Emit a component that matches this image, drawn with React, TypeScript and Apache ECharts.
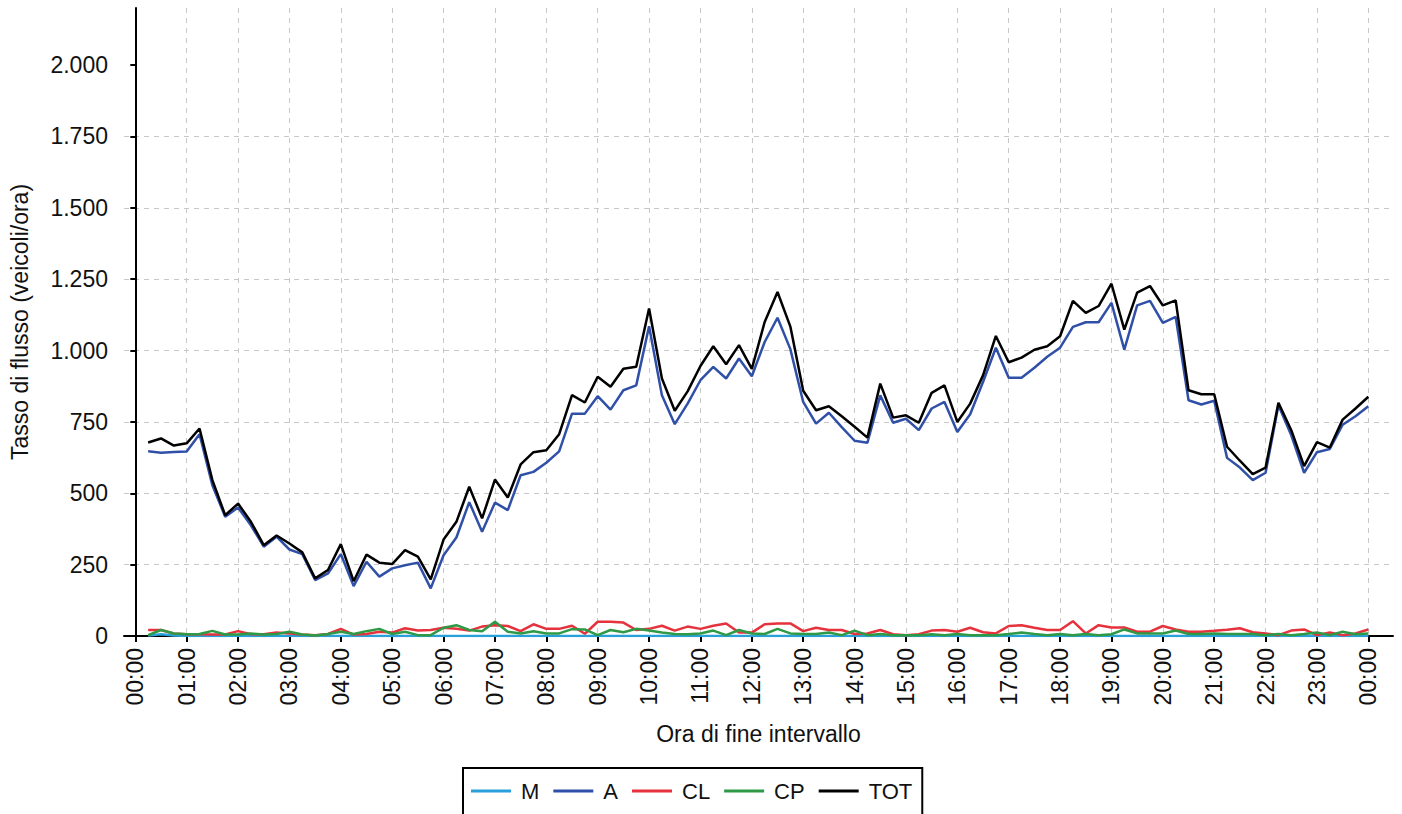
import React, { useEffect, useRef } from "react";
import * as echarts from "echarts";

// End-of-interval times (15-minute intervals)
const times: string[] = [
  "00:15","00:30","00:45","01:00","01:15","01:30","01:45","02:00",
  "02:15","02:30","02:45","03:00","03:15","03:30","03:45","04:00",
  "04:15","04:30","04:45","05:00","05:15","05:30","05:45","06:00",
  "06:15","06:30","06:45","07:00","07:15","07:30","07:45","08:00",
  "08:15","08:30","08:45","09:00","09:15","09:30","09:45","10:00",
  "10:15","10:30","10:45","11:00","11:15","11:30","11:45","12:00",
  "12:15","12:30","12:45","13:00","13:15","13:30","13:45","14:00",
  "14:15","14:30","14:45","15:00","15:15","15:30","15:45","16:00",
  "16:15","16:30","16:45","17:00","17:15","17:30","17:45","18:00",
  "18:15","18:30","18:45","19:00","19:15","19:30","19:45","20:00",
  "20:15","20:30","20:45","21:00","21:15","21:30","21:45","22:00",
  "22:15","22:30","22:45","23:00","23:15","23:30","23:45","24:00",
];

const M: number[] = [
  2,6,2,0,0,0,0,0, 0,0,0,0,0,0,0,0,
  0,0,0,0,0,0,0,0, 0,0,0,0,0,0,0,0,
  0,0,0,0,0,0,0,0, 0,0,0,0,0,0,0,0,
  0,0,0,0,0,0,0,0, 0,0,0,0,0,0,0,0,
  0,0,0,0,0,0,0,0, 0,0,0,0,0,0,0,0,
  0,0,0,0,0,0,0,0, 0,0,0,0,0,0,0,0,
];

const A: number[] = [
  647,642,645,646,707,528,418,450,388,313,348,303,287,196,219,287,
  175,260,208,237,248,257,167,283,345,469,365,467,441,563,575,607,
  647,779,779,840,793,861,878,1085,843,742,814,896,943,902,972,910,
  1030,1115,1005,820,744,782,732,684,677,843,747,761,721,797,820,715,
  777,890,1010,905,905,940,978,1010,1083,1099,1099,1167,1003,1158,1174,1097,
  1118,826,811,824,624,590,546,572,808,703,572,644,655,740,770,805,
];

const CL: number[] = [
  21,21,9,6,6,5,5,17,6,6,12,9,5,3,7,25,
  5,7,15,12,27,19,21,29,25,19,33,38,35,17,41,25,
  25,36,8,50,50,47,21,25,36,19,33,25,36,44,12,12,
  41,44,44,17,29,21,21,7,9,21,6,3,6,19,21,15,
  29,13,9,35,38,29,21,21,52,9,38,30,30,15,15,35,
  23,15,15,18,22,27,13,9,3,19,23,3,12,3,9,23,
];

const CP: number[] = [
  3,21,9,6,7,18,5,5,9,5,7,15,5,2,7,15,
  7,17,25,7,15,3,3,29,38,21,17,50,15,9,17,9,
  9,24,23,3,21,13,25,19,12,7,6,9,19,3,21,9,
  7,25,9,7,7,12,3,19,3,7,3,3,3,6,3,7,
  3,3,3,7,12,7,3,7,3,7,3,6,23,9,9,9,
  19,7,7,9,7,7,7,3,7,3,7,12,3,15,6,9,
];

const TOT: number[] = [
  678,692,667,675,727,546,423,464,400,318,352,324,293,202,231,322,
  192,285,257,252,301,278,198,338,400,523,412,548,485,601,644,651,
  707,844,818,908,873,936,943,1147,902,789,857,946,1015,952,1019,936,
  1100,1205,1084,859,791,805,770,733,695,884,765,773,747,852,878,750,
  814,913,1051,959,975,1003,1015,1050,1174,1132,1156,1234,1073,1203,1226,1158,
  1176,861,847,847,663,614,567,590,817,721,595,679,660,758,797,838,
];

const hourLabels: string[] = [
  "00:00","01:00","02:00","03:00","04:00","05:00","06:00","07:00","08:00",
  "09:00","10:00","11:00","12:00","13:00","14:00","15:00","16:00","17:00",
  "18:00","19:00","20:00","21:00","22:00","23:00","00:00",
];

const yTicks: number[] = [0, 250, 500, 750, 1000, 1250, 1500, 1750, 2000];

const seriesNames = ["M", "A", "CL", "CP", "TOT"];
const seriesColors = ["#29a0da", "#3050a8", "#e6323c", "#2e9a45", "#000000"];

const FONT = "'Liberation Sans', Arial, Helvetica, sans-serif";

function toHours(t: string): number {
  const [h, m] = t.split(":").map(Number);
  return h + m / 60;
}

function fmtThousands(v: number): string {
  return String(Math.round(v)).replace(/\B(?=(\d{3})+(?!\d))/g, ".");
}

export default function App() {
  const ref = useRef<HTMLDivElement>(null);

  useEffect(() => {
    document.body.style.margin = "0";
    if (!ref.current) return;
    const chart = echarts.init(ref.current, undefined, { renderer: "svg" });
    const xs = times.map(toHours);
    const allData = [M, A, CL, CP, TOT];
    const hourTicks = hourLabels.map((_, i) => i);

    const option: any = {
      animation: false,
      backgroundColor: "#ffffff",
      textStyle: { fontFamily: FONT },
      grid: { left: 124, right: 9, top: 8, bottom: 178, containLabel: false },
      legend: {
        left: 463,
        top: 768,
        orient: "horizontal",
        borderColor: "#000",
        borderWidth: 2,
        padding: [12, 10, 16, 8],
        icon: "rect",
        itemWidth: 40,
        itemHeight: 3,
        itemGap: 14,
        data: seriesNames,
        textStyle: { fontSize: 22, color: "#111", fontFamily: FONT, padding: [0, 0, 0, 5] },
      },
      xAxis: {
        type: "value",
        min: -0.22,
        max: 24.48,
        name: "Ora di fine intervallo",
        nameLocation: "middle",
        nameGap: 86,
        nameTextStyle: { fontSize: 23, color: "#111", fontFamily: FONT },
        axisLine: { show: true, onZero: false, lineStyle: { color: "#000", width: 2 } },
        axisTick: { show: true, customValues: hourTicks, length: 6, lineStyle: { color: "#000", width: 2 } },
        axisLabel: {
          customValues: hourTicks,
          rotate: 90,
          margin: 12,
          fontSize: 23,
          color: "#111",
          fontFamily: FONT,
          formatter: (v: number) => hourLabels[Math.round(v)] ?? "",
        },
        splitLine: { show: true, lineStyle: { color: "#c8c8c8", type: [5, 5], width: 1 } },
      },
      yAxis: {
        type: "value",
        min: 0,
        max: 2200,
        name: "Tasso di flusso (veicoli/ora)",
        nameLocation: "middle",
        nameGap: 93,
        nameRotate: 90,
        nameTextStyle: { fontSize: 23, color: "#111", fontFamily: FONT },
        axisLine: { show: true, lineStyle: { color: "#000", width: 2 } },
        axisTick: { show: true, customValues: yTicks, length: 5, lineStyle: { color: "#000", width: 2 } },
        axisLabel: {
          customValues: yTicks,
          margin: 16,
          fontSize: 23,
          color: "#111",
          fontFamily: FONT,
          formatter: (v: number) => fmtThousands(v),
        },
        splitLine: { show: true, showMaxLine: false, lineStyle: { color: "#c8c8c8", type: [5, 5], width: 1 } },
      },
      series: seriesNames.map((name, i) => ({
        name,
        type: "line",
        data: allData[i].map((v, j) => [xs[j], v]),
        showSymbol: false,
        symbol: "none",
        color: seriesColors[i],
        itemStyle: { color: seriesColors[i] },
        lineStyle: { color: seriesColors[i], width: 2.5 },
        emphasis: { disabled: true },
      })),
    };

    chart.setOption(option);
    return () => chart.dispose();
  }, []);

  return (
    <div
      ref={ref}
      style={{ position: "absolute", left: 0, top: 0, width: 1402, height: 814 }}
    />
  );
}
